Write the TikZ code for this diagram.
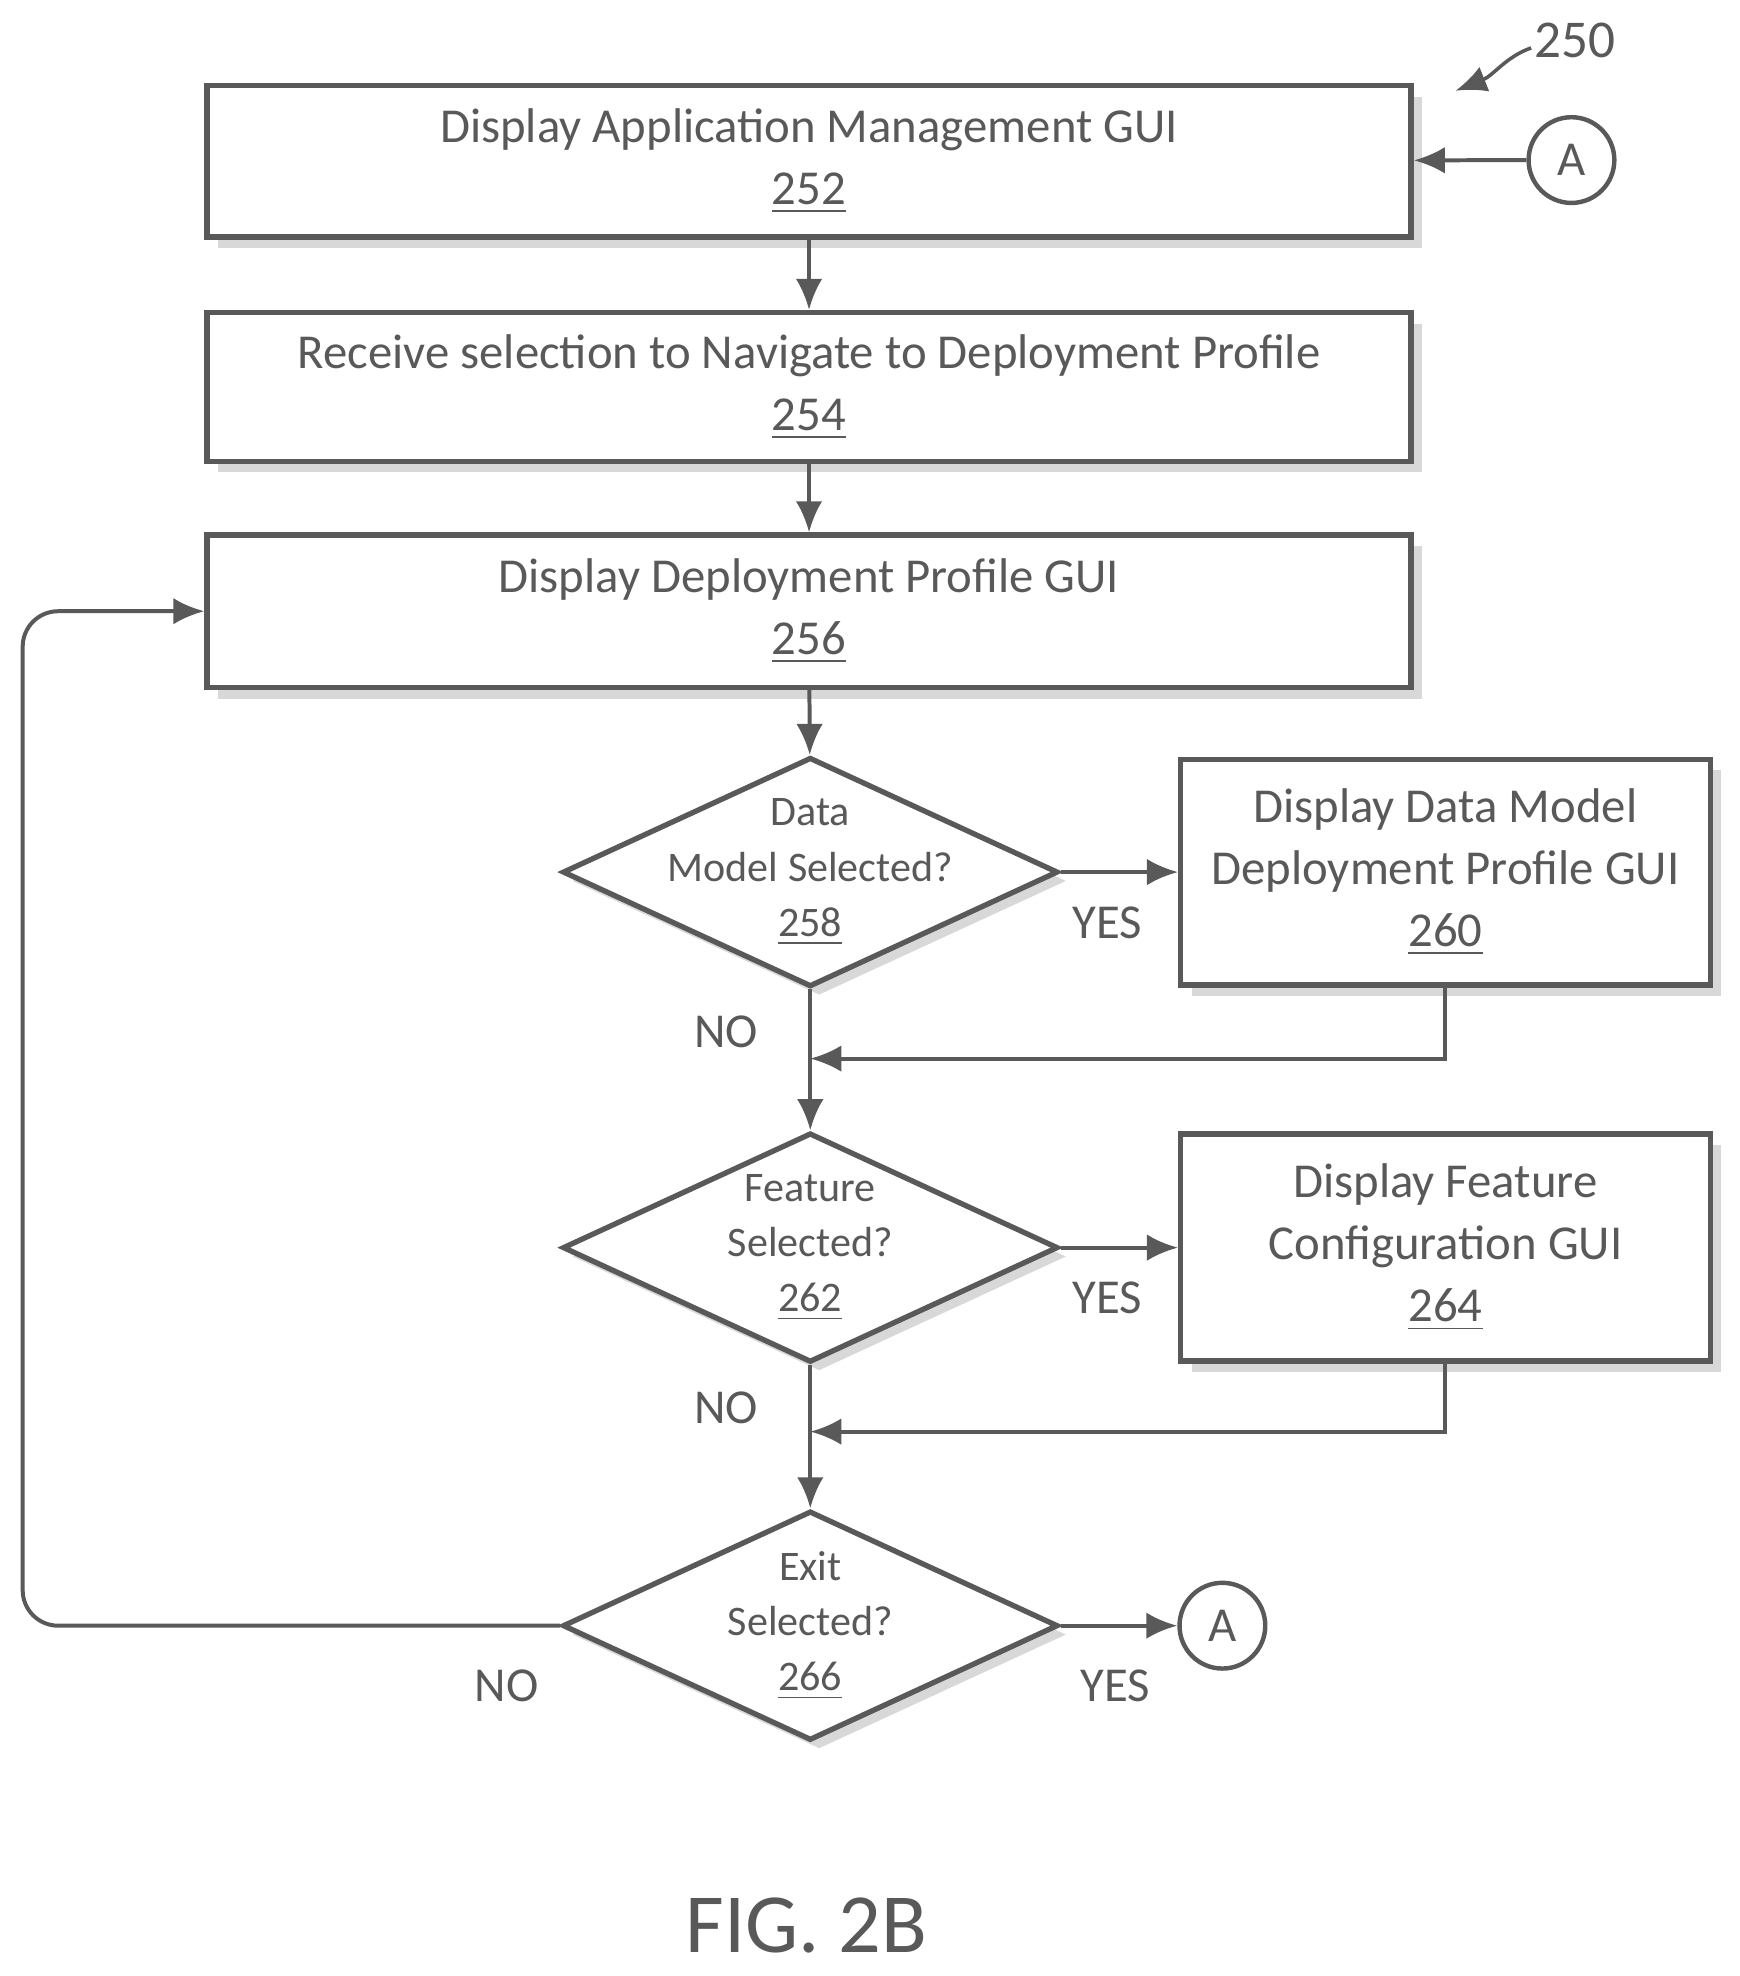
\documentclass[tikz,border=0pt]{standalone}
\usepackage{fontspec}
\setmainfont{Carlito}
\usetikzlibrary{shapes.geometric,arrows.meta,shadows}
\begin{document}
\begin{tikzpicture}[x=0.01cm, y=-0.01cm, >={Latex[length=7pt,width=6pt]}, line width=0.8pt, draw=gray!70!black]
    \tikzstyle{action} = [rectangle, draw=gray!70!black, line width=1.2pt, fill=white, align=center, font=\fontsize{11}{14}\selectfont\scshape, text=gray!70!black, drop shadow={shadow xshift=2.5pt, shadow yshift=-2.5pt, fill=gray!60}]
    \tikzstyle{check} = [diamond, draw=gray!70!black, line width=1.2pt, fill=white, inner sep=0pt, minimum width=3.93cm, minimum height=1.82cm, drop shadow={shadow xshift=2pt, shadow yshift=-2pt, fill=gray!60}]
    \tikzstyle{ask} = [align=center, font=\fontsize{9.5}{12.5}\selectfont\scshape, text=gray!70!black]
    \tikzstyle{conn} = [circle, draw=gray!70!black, line width=1pt, minimum size=0.68cm, inner sep=0pt, font=\fontsize{11}{13}\selectfont, text=gray!70!black]
    \tikzstyle{lbl} = [font=\fontsize{11}{13}\selectfont, text=gray!70!black]
    \tikzstyle{flow} = [->, draw=gray!70!black, line width=0.9pt]

    \useasboundingbox (0,0) rectangle (1380,1568);

    % Steps
    \node [action, minimum width=9.55cm, minimum height=1.2cm] (s252) at (642,128) {Display Application Management GUI\\\underline{252}};
    \node [action, minimum width=9.55cm, minimum height=1.18cm] (s254) at (642,307) {Receive selection to Navigate to Deployment Profile\\\underline{254}};
    \node [action, minimum width=9.55cm, minimum height=1.21cm] (s256) at (642,485) {Display Deployment Profile GUI\\\underline{256}};
    \node [action, minimum width=4.2cm, minimum height=1.79cm] (s260) at (1147,692) {Display Data Model\\Deployment Profile GUI\\\underline{260}};
    \node [action, minimum width=4.2cm, minimum height=1.8cm] (s264) at (1147,990) {Display Feature\\Configuration GUI\\\underline{264}};

    % Decisions
    \node [check] (d258) at (643,692) {};
    \node [ask] at (d258) {Data\\Model Selected?\\\underline{258}};
    \node [check] (d262) at (643,990) {};
    \node [ask] at (d262) {Feature\\Selected?\\\underline{262}};
    \node [check] (d266) at (643,1290) {};
    \node [ask] at (d266) {Exit\\Selected?\\\underline{266}};

    % Connectors A
    \node [conn] (a1) at (1247,127) {A};
    \node [conn] (a2) at (970,1290) {A};
    \node [lbl, font=\fontsize{12}{14}\selectfont] (ref) at (1250,32) {250};
    \coordinate (refend) at (1155,72);
    \draw [->, draw=gray!70!black] (1215,38) .. controls (1195,45) and (1185,60) .. (refend);

    % Flow
    \draw [flow] (a1) -- (s252);
    \draw [flow] (s252) -- (s254);
    \draw [flow] (s254) -- (s256);
    \draw [flow] (s256) -- (d258);
    \draw [flow] (d258) -- node[lbl, below=4pt, pos=0.4] {YES} (s260);
    \draw [flow] (d258) -- node[lbl, left, pos=0.3, xshift=-8pt] {NO} (d262);
    \draw [flow] (s260.south) |- (643,840);
    \draw [flow] (d262) -- node[lbl, below=4pt, pos=0.4] {YES} (s264);
    \draw [flow] (d262) -- node[lbl, left, pos=0.3, xshift=-8pt] {NO} (d266);
    \draw [flow] (s264.south) |- (643,1136);
    \draw [flow] (d266) -- (a2);
    \node [lbl] at (885,1338) {YES};
    \node [lbl] at (402,1338) {NO};
    \draw [flow, rounded corners=8pt] (d266.west) -- (18,1290) -- (18,485) -- (s256.west);

    % Caption
    \node [lbl, font=\fontsize{19}{22}\selectfont] (cap) at (640,1528) {FIG. 2B};
\end{tikzpicture}
\end{document}
